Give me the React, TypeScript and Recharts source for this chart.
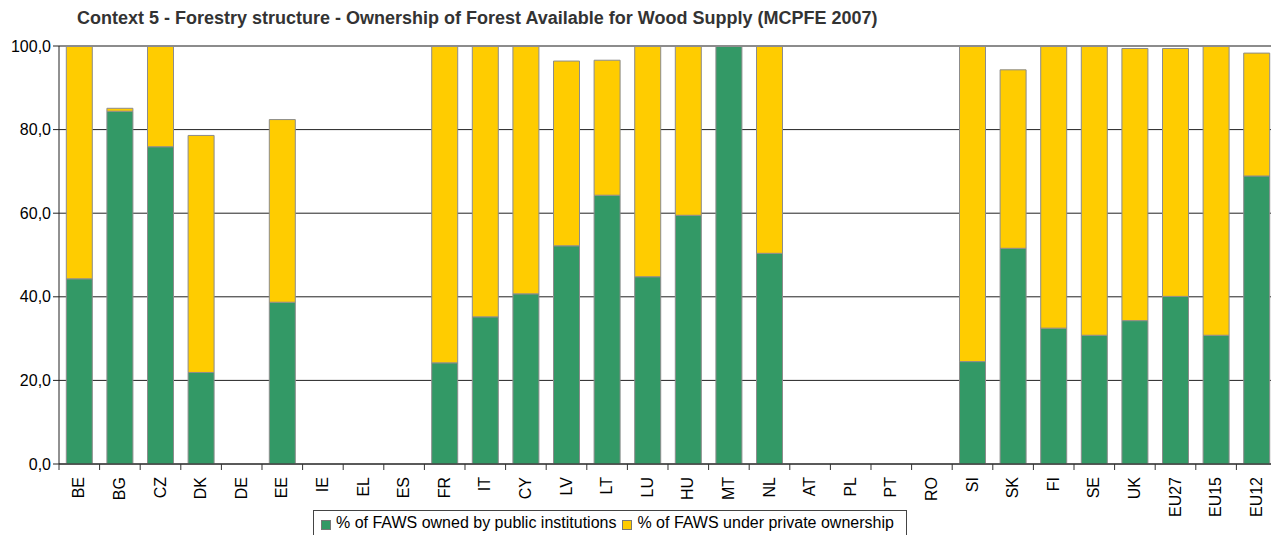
import { Bar, BarChart, CartesianGrid, ReferenceLine, XAxis, YAxis } from "recharts";

const countries = [
  "BE", "BG", "CZ", "DK", "DE", "EE", "IE", "EL", "ES", "FR",
  "IT", "CY", "LV", "LT", "LU", "HU", "MT", "NL", "AT", "PL",
  "PT", "RO", "SI", "SK", "FI", "SE", "UK", "EU27", "EU15", "EU12",
];
const publicShare = [
  44.3, 84.4, 75.9, 21.9, 0, 38.7, 0, 0, 0, 24.2,
  35.2, 40.7, 52.2, 64.3, 44.8, 59.5, 100, 50.4, 0, 0,
  0, 0, 24.5, 51.6, 32.5, 30.8, 34.3, 40.1, 30.8, 68.9,
];
const privateShare = [
  55.7, 0.7, 24.1, 56.7, 0, 43.7, 0, 0, 0, 75.8,
  64.8, 59.3, 44.2, 32.3, 55.2, 40.5, 0, 49.6, 0, 0,
  0, 0, 75.5, 42.7, 67.5, 69.2, 65.1, 59.3, 69.2, 29.4,
];
const yTicks = [0, 20, 40, 60, 80, 100];

const GREEN = "#339966";
const YELLOW = "#ffcc00";
const FONT = "'Liberation Sans', Arial, sans-serif";
const HALF_BAND = 1218 / countries.length / 2;

const rows = countries.map((c, i) => ({ country: c, pub: publicShare[i], priv: privateShare[i] }));

function CountryTick({ x, y, payload }: any) {
  return (
    <g transform={`translate(${x},${y})`}>
      <line x1={-HALF_BAND} x2={-HALF_BAND} y1={0} y2={6} stroke="#333" />
      <text transform="rotate(-90)" x={-13} y={5} textAnchor="end" fontSize={16} fill="#000" fontFamily={FONT}>
        {payload.value}
      </text>
    </g>
  );
}

export default function App() {
  return (
    <div style={{ position: "absolute", left: 0, top: 0, width: 1271, height: 535, overflow: "hidden", background: "#fff", fontFamily: FONT }}>
      <div style={{ position: "absolute", left: 77, top: 8, fontSize: 18, fontWeight: "bold", color: "#333", whiteSpace: "nowrap" }}>
        Context 5 - Forestry structure - Ownership of Forest Available for Wood Supply (MCPFE 2007)
      </div>
      <BarChart width={1290} height={535} data={rows} margin={{ top: 46, right: 13, bottom: 21, left: 0 }} barCategoryGap="18%">
        <CartesianGrid horizontal vertical={false} stroke="#222" />
        <XAxis dataKey="country" height={50} interval={0} tickLine={false} tickSize={0} tickMargin={0} axisLine={{ stroke: "#222" }} tick={<CountryTick />} />
        <YAxis
          width={59}
          domain={[0, 100]}
          ticks={yTicks}
          tickSize={6}
          tickMargin={2}
          tickLine={{ stroke: "#222" }}
          axisLine={{ stroke: "#222" }}
          tick={{ fontSize: 16, fill: "#000", fontFamily: FONT }}
          tickFormatter={(v: number) => v.toFixed(1).replace(".", ",")}
        />
        <Bar dataKey="pub" stackId="s" fill={GREEN} stroke="#8c8c8c" strokeWidth={1} isAnimationActive={false} />
        <Bar dataKey="priv" stackId="s" fill={YELLOW} stroke="#8c8c8c" strokeWidth={1} isAnimationActive={false} />
        <ReferenceLine y={100} stroke="#8c8c8c" strokeWidth={2} />
      </BarChart>
      <div style={{ position: "absolute", left: 313, top: 510, width: 594, height: 30, border: "1px solid #444", boxSizing: "border-box", display: "flex", alignItems: "flex-start", paddingTop: 3, paddingLeft: 7, fontSize: 16, color: "#000", whiteSpace: "nowrap" }}>
        <span style={{ display: "inline-block", width: 8, height: 8, background: GREEN, border: "1px solid #777", marginTop: 6, marginRight: 5 }} />
        <span>% of FAWS owned by public institutions</span>
        <span style={{ display: "inline-block", width: 8, height: 8, background: YELLOW, border: "1px solid #777", marginTop: 6, marginLeft: 6, marginRight: 5 }} />
        <span>% of FAWS under private ownership</span>
      </div>
    </div>
  );
}
